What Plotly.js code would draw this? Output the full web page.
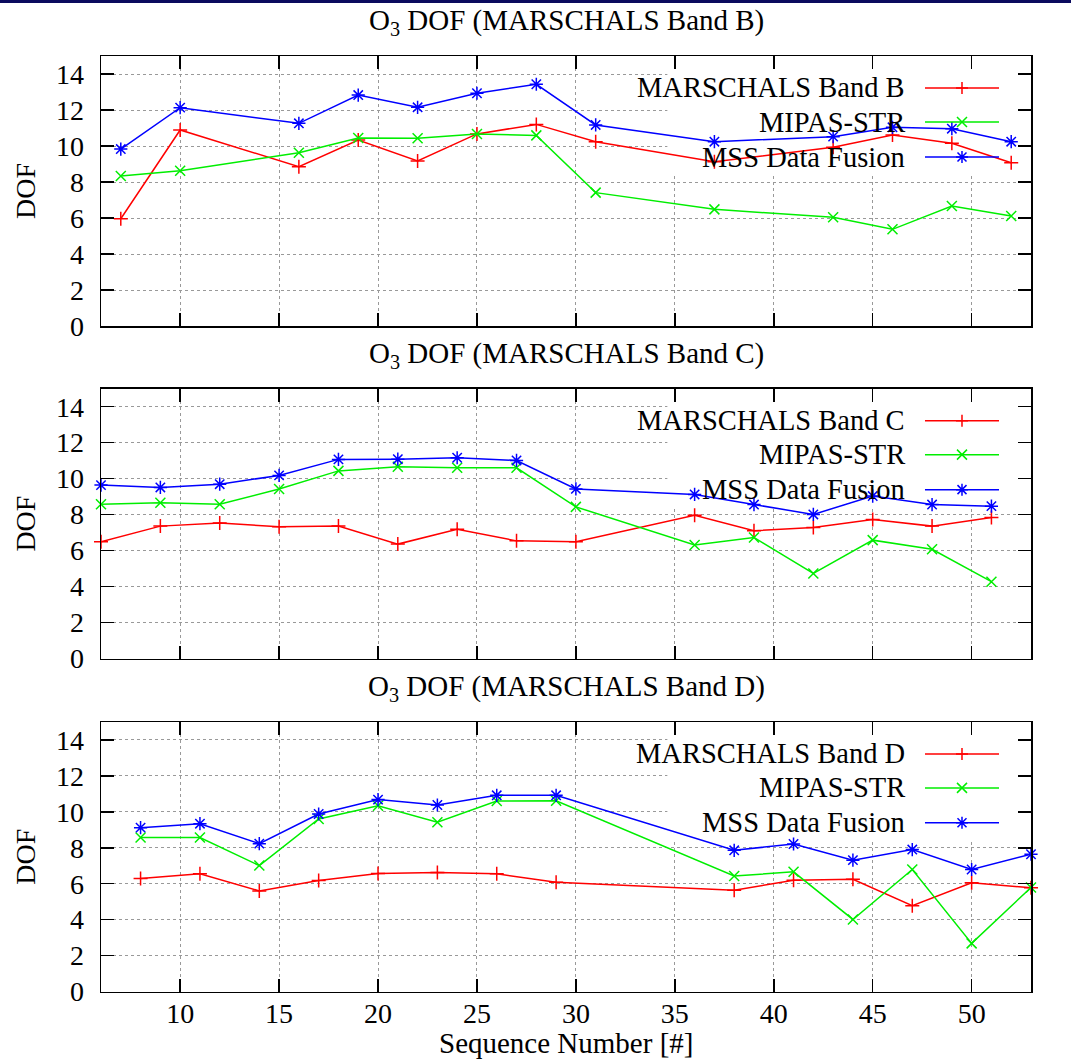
<!DOCTYPE html>
<html>
<head>
<meta charset="utf-8">
<script src="https://cdn.plot.ly/plotly-3.0.1.min.js"></script>
<style>html,body{margin:0;padding:0;background:#fff;}#chart{width:1071px;height:1060px;}</style>
</head>
<body>
<div id="chart"></div>
<script>
// ---- Data ----
var seriesNames = ["MARSCHALS Band", "MIPAS-STR", "MSS Data Fusion"];
var bandNames = ["B", "C", "D"];
var xTicks = [10, 15, 20, 25, 30, 35, 40, 45, 50];
var yTicks = [0, 2, 4, 6, 8, 10, 12, 14];

var xB = [7, 10, 16, 19, 22, 25, 28, 31, 37, 43, 46, 49, 52];
var marschalsB = [5.96, 10.89, 8.85, 10.33, 9.17, 10.67, 11.2, 10.24, 9.13, 9.93, 10.61, 10.15, 9.07];
var mipasB = [8.33, 8.63, 9.63, 10.44, 10.43, 10.67, 10.59, 7.41, 6.48, 6.04, 5.37, 6.67, 6.11];
var fusionB = [9.83, 12.13, 11.26, 12.83, 12.15, 12.93, 13.43, 11.17, 10.24, 10.52, 11.04, 10.96, 10.24];

var xC = [6, 9, 12, 15, 18, 21, 24, 27, 30, 36, 39, 42, 45, 48, 51];
var marschalsC = [6.49, 7.36, 7.54, 7.32, 7.36, 6.36, 7.19, 6.54, 6.49, 7.97, 7.1, 7.29, 7.73, 7.36, 7.84];
var mipasC = [8.58, 8.66, 8.58, 9.42, 10.43, 10.66, 10.6, 10.6, 8.43, 6.31, 6.73, 4.73, 6.58, 6.07, 4.27];
var fusionC = [9.64, 9.51, 9.69, 10.18, 11.07, 11.08, 11.16, 11.01, 9.43, 9.12, 8.56, 8.01, 9.03, 8.56, 8.47];

var xD = [8, 11, 14, 17, 20, 23, 26, 29, 38, 41, 44, 47, 50, 53];
var marschalsD = [6.29, 6.55, 5.6, 6.18, 6.57, 6.62, 6.55, 6.08, 5.64, 6.19, 6.25, 4.77, 6.05, 5.77];
var mipasD = [8.57, 8.57, 7.01, 9.6, 10.34, 9.42, 10.6, 10.62, 6.43, 6.66, 4.01, 6.79, 2.68, 5.79];
var fusionD = [9.12, 9.34, 8.23, 9.88, 10.68, 10.38, 10.92, 10.92, 7.86, 8.21, 7.31, 7.9, 6.79, 7.64];

// ---- Styling ----
var FONT = "Liberation Serif";
var colors = ["#ff0000", "#00ee00", "#0000ff"];
var symbols = ["cross-thin", "x-thin", "asterisk"];
var symbolPaths = [
  "M-6,0 L6,0 M0,-6 L0,6",
  "M-5,-5 L5,5 M-5,5 L5,-5",
  "M-6,0 L6,0 M0,-6 L0,6 M-4.5,-4.5 L4.5,4.5 M-4.5,4.5 L4.5,-4.5"
];

var panels = [
  {x: xB, ys: [marschalsB, mipasB, fusionB]},
  {x: xC, ys: [marschalsC, mipasC, fusionC]},
  {x: xD, ys: [marschalsD, mipasD, fusionD]}
];

var XR = [6, 53], YR = [0, 15];
var H = 1060;
var panelPx = [[56, 326], [388.7, 658.5], [722, 991.5]]; // top, bottom in pixels
var titlePx = [22, 355, 688];

var traces = [];
panels.forEach(function (p, i) {
  var sfx = i === 0 ? "" : String(i + 1);
  p.ys.forEach(function (ys, s) {
    traces.push({
      type: "scatter", mode: "lines+markers",
      x: p.x, y: ys,
      xaxis: "x" + sfx, yaxis: "y" + sfx,
      name: s === 0 ? seriesNames[0] + " " + bandNames[i] : seriesNames[s],
      line: {color: colors[s], width: 1.5},
      marker: {symbol: symbols[s], size: s === 2 ? 11 : 10, color: colors[s],
               line: {color: colors[s], width: 1.5}},
      cliponaxis: false,
      showlegend: false
    });
  });
});

function xAxis(i) {
  return {
    range: XR, tickmode: "array", tickvals: xTicks,
    ticks: "inside", ticklen: 13, tickwidth: 1.5, tickcolor: "#000",
    showline: true, linecolor: "#000", linewidth: 1.5, mirror: "allticks",
    showgrid: true, gridcolor: "#999", griddash: "dot", gridwidth: 1,
    zeroline: false, showticklabels: i === 2, ticklabelstandoff: -4,
    tickfont: {family: FONT, size: 28, color: "#000"},
    anchor: i === 0 ? "y" : "y" + (i + 1), domain: [0, 1], automargin: false
  };
}
function yAxis(i) {
  var top = panelPx[i][0], bot = panelPx[i][1];
  return {
    range: YR, tickmode: "array", tickvals: yTicks,
    ticks: "inside", ticklen: 13, tickwidth: 1.5, tickcolor: "#000",
    showline: true, linecolor: "#000", linewidth: 1.5, mirror: "allticks",
    showgrid: true, gridcolor: "#999", griddash: "dot", gridwidth: 1,
    zeroline: false, ticklabelstandoff: 10,
    tickfont: {family: FONT, size: 28, color: "#000"},
    title: {text: "DOF", standoff: 12, font: {family: FONT, size: 28, color: "#000"}},
    anchor: i === 0 ? "x" : "x" + (i + 1),
    domain: [1 - bot / H, 1 - top / H], automargin: false
  };
}

var layout = {
  width: 1071, height: 1060,
  margin: {l: 101, r: 40, t: 0, b: 0},
  paper_bgcolor: "#fff", plot_bgcolor: "#fff",
  showlegend: false,
  font: {family: FONT, size: 28, color: "#000"},
  annotations: [], shapes: []
};

var rowY = [1 - 32 / 270, 1 - 66 / 270, 1 - 101 / 270];
var keyBox = {x0: 0.609, y0: 0.56}; // fraction of plot area
for (var i = 0; i < 3; i++) {
  var sfx = i === 0 ? "" : String(i + 1);
  layout["xaxis" + sfx] = xAxis(i);
  layout["yaxis" + sfx] = yAxis(i);

  layout.annotations.push({
    text: "O<sub>3</sub> DOF (MARSCHALS Band " + bandNames[i] + ")",
    xref: "paper", yref: "paper", x: 0.5, y: 1 - titlePx[i] / H,
    xanchor: "center", yanchor: "middle", showarrow: false,
    font: {family: FONT, size: 29, color: "#000"}
  });

  // opaque key box (above grid, below data)
  layout.shapes.push({
    type: "rect", xref: "x" + sfx, yref: "y" + sfx,
    x0: XR[0] + keyBox.x0 * (XR[1] - XR[0]), x1: XR[1],
    y0: YR[0] + keyBox.y0 * (YR[1] - YR[0]), y1: YR[1], layer: "between",
    fillcolor: "#fff", line: {width: 0}
  });

  for (var s = 0; s < 3; s++) {
    layout.annotations.push({
      text: s === 0 ? seriesNames[0] + " " + bandNames[i] : seriesNames[s],
      xref: "x" + sfx + " domain", yref: "y" + sfx + " domain",
      x: 0.8667, y: rowY[s], xanchor: "right", yanchor: "middle",
      showarrow: false, font: {family: FONT, size: 28.5, color: "#000"}
    });
    layout.shapes.push({
      type: "line", xref: "x" + sfx + " domain", yref: "y" + sfx + " domain",
      x0: 0.886, x1: 0.9656, y0: rowY[s], y1: rowY[s],
      line: {color: colors[s], width: 1.5}, layer: "above"
    });
    layout.shapes.push({
      type: "path", xref: "x" + sfx + " domain", yref: "y" + sfx + " domain",
      xsizemode: "pixel", ysizemode: "pixel", xanchor: 0.9258, yanchor: rowY[s],
      path: symbolPaths[s], line: {color: colors[s], width: 1.5}, layer: "above"
    });
  }
}

layout.annotations.push({
  text: "Sequence Number [#]", xref: "paper", yref: "paper",
  x: 0.5, y: 1 - 1043 / H, xanchor: "center", yanchor: "middle", showarrow: false,
  font: {family: FONT, size: 29, color: "#000"}
});

// dark top border of the figure
layout.shapes.push({
  type: "rect", xref: "paper", yref: "paper",
  x0: -101 / 930, x1: 1 + 40 / 930, y0: 1 - 3 / H, y1: 1,
  fillcolor: "#0a0a5e", line: {width: 0}, layer: "above"
});

Plotly.newPlot("chart", traces, layout, {displayModeBar: false, staticPlot: true});
</script>
</body>
</html>
